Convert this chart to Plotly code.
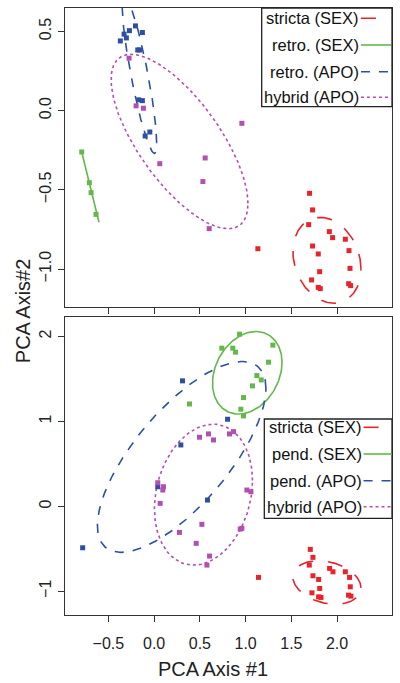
import numpy as np
import plotly.graph_objects as go

# ---------------- data: top panel ----------------
top_stricta_x = [1.699, 1.732, 1.689, 1.915, 1.951, 2.090, 1.732, 2.130, 1.794, 1.134,
                 2.141, 1.809, 1.721, 2.126, 2.148, 1.794, 1.816]
top_stricta_y = [-0.522, -0.627, -0.720, -0.764, -0.802, -0.812, -0.855, -0.884, -0.905, -0.872,
                 -0.996, -1.017, -1.069, -1.093, -1.105, -1.116, -1.124]
top_retro_sex_x = [-0.791, -0.708, -0.689, -0.635]
top_retro_sex_y = [-0.261, -0.455, -0.518, -0.655]
top_retro_apo_x = [-0.369, -0.328, -0.303, -0.270, -0.204, -0.128, -0.179, -0.160, -0.168, -0.128, -0.047, -0.098]
top_retro_apo_y = [0.440, 0.483, 0.459, 0.505, 0.535, 0.493, 0.383, 0.383, 0.068, 0.063, -0.135, -0.160]
top_hybrid_x = [-0.274, -0.197, -0.117, 0.062, 0.558, 0.533, 0.959, 0.602]
top_hybrid_y = [0.331, 0.030, 0.015, -0.335, -0.299, -0.448, -0.080, -0.745]

# ---------------- data: bottom panel ----------------
bot_stricta_x = [1.707, 1.736, 1.696, 1.918, 1.955, 2.090, 1.736, 2.136, 1.798, 1.141,
                 2.144, 1.810, 1.725, 2.125, 2.151, 1.798, 1.824]
bot_stricta_y = [-0.507, -0.601, -0.692, -0.731, -0.771, -0.771, -0.818, -0.837, -0.861, -0.837,
                 -0.948, -0.967, -1.019, -1.046, -1.058, -1.066, -1.073]
bot_pend_sex_x = [0.934, 0.740, 0.860, 0.890, 1.298, 1.250, 1.123, 1.171, 1.075, 0.977, 0.387, 0.948, 0.977]
bot_pend_sex_y = [2.028, 1.863, 1.863, 1.816, 1.899, 1.698, 1.540, 1.489, 1.419, 1.281, 1.206, 1.144, 1.065]
bot_pend_apo_x = [0.310, 0.803, 0.292, 0.040, 0.583, -0.781]
bot_pend_apo_y = [1.478, 1.026, 0.723, 0.231, 0.074, -0.488]
bot_hybrid_x = [0.496, 0.594, 0.649, 0.824, 0.868, 0.040, 0.102, 0.095, 0.066, 1.014, 1.058,
                0.277, 0.522, 0.941, 0.959, 0.460, 0.606, 0.577]
bot_hybrid_y = [0.814, 0.853, 0.782, 0.853, 0.880, 0.278, 0.231, 0.192, 0.035, 0.192, 0.172,
                -0.307, -0.212, -0.268, -0.259, -0.436, -0.586, -0.692]

# ellipse parameters: centre x, centre y, sd x, sd y, correlation
top_ell_cx = [1.889, -0.697, -0.160, 0.278]
top_ell_cy = [-0.945, -0.483, 0.225, -0.195]
top_ell_sx = [0.372, 0.0945, 0.188, 0.748]
top_ell_sy = [0.271, 0.222, 0.495, 0.551]
top_ell_r = [-0.2, -1.0, -0.866, -0.709]

bot_ell_cx = [1.889, 1.018, 0.301, 0.539]
bot_ell_cy = [-0.897, 1.573, 0.582, 0.1375]
bot_ell_sx = [0.372, 0.380, 0.921, 0.536]
bot_ell_sy = [0.256, 0.486, 1.124, 0.830]
bot_ell_r = [-0.25, 0.25, 0.72, 0.2]

top_labels = ["stricta (SEX)", "retro. (SEX)", "retro. (APO)", "hybrid (APO)"]
bot_labels = ["stricta (SEX)", "pend. (SEX)", "pend. (APO)", "hybrid (APO)"]

x_tickvals = [-0.5, 0.0, 0.5, 1.0, 1.5, 2.0]
x_ticktext = ["\u22120.5", "0.0", "0.5", "1.0", "1.5", "2.0"]
top_y_tickvals = [-1.0, -0.5, 0.0, 0.5]
top_y_ticktext = ["\u22121.0", "\u22120.5", "0.0", "0.5"]
bot_y_tickvals = [-1, 0, 1, 2]
bot_y_ticktext = ["\u22121", "0", "1", "2"]

# ---------------- styles ----------------
colors = ["#E8232B", "#62B94A", "#2C4FA3", "#B24FB0"]
dashes = ["longdash", "solid", "dash", "dot"]
FONT = "Liberation Sans, Arial, sans-serif"

fig = go.Figure()


def ellipse(cx, cy, sx, sy, r):
    t = np.linspace(0, 2 * np.pi, 200)
    x = cx + sx * np.cos(t)
    y = cy + sy * (r * np.cos(t) + np.sqrt(max(0.0, 1 - r * r)) * np.sin(t))
    return x, y


top_pts = [(top_stricta_x, top_stricta_y), (top_retro_sex_x, top_retro_sex_y),
           (top_retro_apo_x, top_retro_apo_y), (top_hybrid_x, top_hybrid_y)]
bot_pts = [(bot_stricta_x, bot_stricta_y), (bot_pend_sex_x, bot_pend_sex_y),
           (bot_pend_apo_x, bot_pend_apo_y), (bot_hybrid_x, bot_hybrid_y)]

for i in range(4):
    ex, ey = ellipse(top_ell_cx[i], top_ell_cy[i], top_ell_sx[i], top_ell_sy[i], top_ell_r[i])
    fig.add_trace(go.Scatter(x=ex, y=ey, mode="lines", xaxis="x", yaxis="y",
                             line=dict(color=colors[i], width=1.6, dash=dashes[i]),
                             showlegend=False, hoverinfo="skip"))
    ex, ey = ellipse(bot_ell_cx[i], bot_ell_cy[i], bot_ell_sx[i], bot_ell_sy[i], bot_ell_r[i])
    fig.add_trace(go.Scatter(x=ex, y=ey, mode="lines", xaxis="x2", yaxis="y2",
                             line=dict(color=colors[i], width=1.6, dash=dashes[i]),
                             showlegend=False, hoverinfo="skip"))
for i in range(4):
    fig.add_trace(go.Scatter(x=top_pts[i][0], y=top_pts[i][1], mode="markers", xaxis="x", yaxis="y",
                             marker=dict(symbol="square", size=5, color=colors[i]),
                             showlegend=False, name=top_labels[i]))
    fig.add_trace(go.Scatter(x=bot_pts[i][0], y=bot_pts[i][1], mode="markers", xaxis="x2", yaxis="y2",
                             marker=dict(symbol="square", size=5, color=colors[i]),
                             showlegend=False, name=bot_labels[i]))

axis_common = dict(showline=True, mirror=True, linecolor="#333", linewidth=1.4,
                   ticks="outside", ticklen=6, tickcolor="#333", tickwidth=1.2,
                   showgrid=False, zeroline=False,
                   tickfont=dict(family=FONT, size=16, color="#222"))

XR = [-0.974, 2.60]
fig.update_layout(
    width=400, height=683,
    margin=dict(l=65, r=8, t=8, b=68),
    paper_bgcolor="white", plot_bgcolor="white",
    showlegend=False,
    font=dict(family=FONT, color="#222"),
    xaxis=dict(domain=[0, 1], anchor="y", range=XR, tickvals=x_tickvals, ticktext=x_ticktext,
               showticklabels=False, **axis_common),
    yaxis=dict(domain=[0.5074, 1.0], anchor="x", range=[-1.24, 0.648],
               tickvals=top_y_tickvals, ticktext=top_y_ticktext, tickangle=-90, **axis_common),
    xaxis2=dict(domain=[0, 1], anchor="y2", range=XR, tickvals=x_tickvals, ticktext=x_ticktext,
                ticklabelstandoff=8, **axis_common),
    yaxis2=dict(domain=[0, 0.4909], anchor="x2", range=[-1.28, 2.23],
                tickvals=bot_y_tickvals, ticktext=bot_y_ticktext, tickangle=-90, **axis_common),
)

shapes = []
annotations = []


def add_legend(xref, yref, box, text_x, line_x0, line_x1, ys, labels):
    shapes.append(dict(type="rect", xref=xref, yref=yref, x0=box[0], x1=box[1], y0=box[2], y1=box[3],
                       line=dict(color="#222", width=1.3), fillcolor="white", layer="above"))
    for i, lab in enumerate(labels):
        annotations.append(dict(xref=xref, yref=yref, x=text_x, y=ys[i], text=lab, showarrow=False,
                                xanchor="right", yanchor="middle",
                                font=dict(family=FONT, size=16.5, color="#111")))
        shapes.append(dict(type="line", xref=xref, yref=yref, x0=line_x0, x1=line_x1, y0=ys[i], y1=ys[i],
                           line=dict(color=colors[i], width=1.6, dash=dashes[i]), layer="above"))


add_legend("x domain", "y domain", [0.6015, 1.0, 0.670, 1.0], 0.905, 0.905, 0.997,
           [0.9655, 0.8763, 0.7870, 0.7014], top_labels)
add_legend("x2 domain", "y2 domain", [0.6095, 1.0, 0.3245, 0.6577], 0.913, 0.913, 1.0,
           [0.6299, 0.5403, 0.4507, 0.3634], bot_labels)

annotations.append(dict(xref="paper", yref="paper", x=0.4526, y=-0.089, text="PCA Axis #1",
                        showarrow=False, xanchor="center", yanchor="middle",
                        font=dict(family=FONT, size=20, color="#222")))
annotations.append(dict(xref="paper", yref="paper", x=-0.128, y=0.5008, text="PCA Axis#2",
                        showarrow=False, xanchor="center", yanchor="middle", textangle=-90,
                        font=dict(family=FONT, size=20, color="#222")))

fig.update_layout(shapes=shapes, annotations=annotations)
fig.write_html("out.html", config={"displayModeBar": False},
               post_script="document.body.style.margin='0';document.body.style.overflow='hidden';"
                           "window.dispatchEvent(new Event('resize'));")
